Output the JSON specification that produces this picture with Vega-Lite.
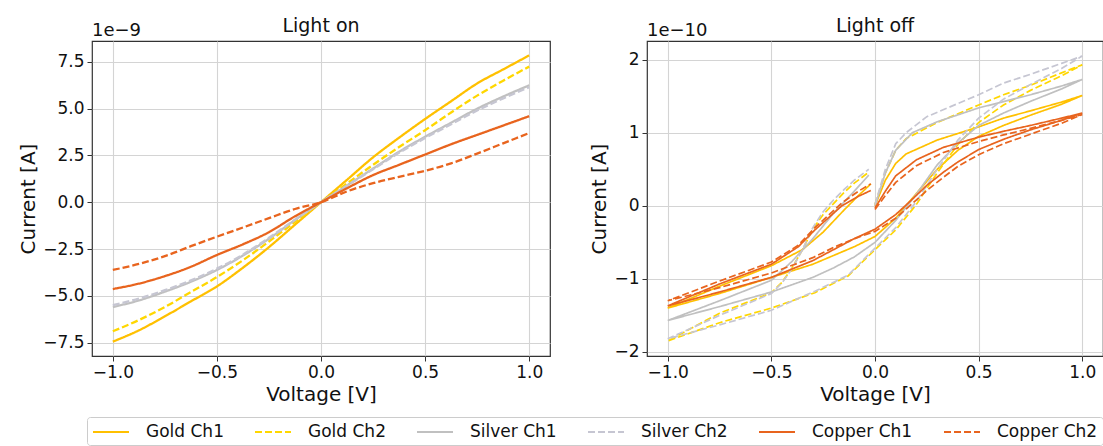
{
"$schema": "https://vega.github.io/schema/vega-lite/v6.json",
"background": "white",
"padding": {"left": 18, "top": 16, "right": 0, "bottom": 0},
"config": {
  "font": "DejaVu Sans",
  "view": {"stroke": "#333333", "strokeWidth": 1.2},
  "axis": {"domain": false, "grid": true, "gridColor": "#d4d4d4", "gridWidth": 1.1, "tickColor": "#333333", "tickSize": 5, "labelFont": "DejaVu Sans", "labelFontSize": 17, "labelColor": "#111111", "titleFont": "DejaVu Sans", "titleFontSize": 20, "titleFontWeight": "normal", "titleColor": "#111111", "labelPadding": 3},
  "title": {"font": "DejaVu Sans", "fontSize": 19, "fontWeight": "normal", "color": "#111111", "offset": -14},
  "legend": {"orient": "none", "legendX": -5, "legendY": 376, "direction": "horizontal", "columns": 6, "title": null, "symbolType": "M-1,0H3", "symbolSize": 324, "symbolStrokeWidth": 2, "labelFontSize": 17, "labelFont": "DejaVu Sans", "labelColor": "#111111", "labelOffset": 34, "columnPadding": 27, "strokeColor": "#cccccc", "fillColor": "white", "padding": 5, "cornerRadius": 3}
},
"datasets": {
"on": [
{"s":"Gold Ch1","v":-1,"c":-7.45e-9},{"s":"Gold Ch1","v":-0.875,"c":-6.85e-9},{"s":"Gold Ch1","v":-0.75,"c":-6.1e-9},{"s":"Gold Ch1","v":-0.625,"c":-5.3e-9},{"s":"Gold Ch1","v":-0.5,"c":-4.5e-9},{"s":"Gold Ch1","v":-0.375,"c":-3.5e-9},{"s":"Gold Ch1","v":-0.25,"c":-2.4e-9},{"s":"Gold Ch1","v":-0.125,"c":-1.2e-9},{"s":"Gold Ch1","v":0,"c":0},{"s":"Gold Ch1","v":0.125,"c":1.2e-9},{"s":"Gold Ch1","v":0.25,"c":2.4e-9},{"s":"Gold Ch1","v":0.375,"c":3.45e-9},{"s":"Gold Ch1","v":0.5,"c":4.45e-9},{"s":"Gold Ch1","v":0.625,"c":5.4e-9},{"s":"Gold Ch1","v":0.75,"c":6.35e-9},{"s":"Gold Ch1","v":0.875,"c":7.1e-9},{"s":"Gold Ch1","v":1,"c":7.85e-9},
{"s":"Gold Ch2","v":-1,"c":-6.9e-9},{"s":"Gold Ch2","v":-0.875,"c":-6.3e-9},{"s":"Gold Ch2","v":-0.75,"c":-5.6e-9},{"s":"Gold Ch2","v":-0.625,"c":-4.8e-9},{"s":"Gold Ch2","v":-0.5,"c":-4.0e-9},{"s":"Gold Ch2","v":-0.375,"c":-3.1e-9},{"s":"Gold Ch2","v":-0.25,"c":-2.1e-9},{"s":"Gold Ch2","v":-0.125,"c":-1.05e-9},{"s":"Gold Ch2","v":0,"c":0},{"s":"Gold Ch2","v":0.125,"c":1.0e-9},{"s":"Gold Ch2","v":0.25,"c":2.0e-9},{"s":"Gold Ch2","v":0.375,"c":2.95e-9},{"s":"Gold Ch2","v":0.5,"c":3.85e-9},{"s":"Gold Ch2","v":0.625,"c":4.8e-9},{"s":"Gold Ch2","v":0.75,"c":5.7e-9},{"s":"Gold Ch2","v":0.875,"c":6.5e-9},{"s":"Gold Ch2","v":1,"c":7.25e-9},
{"s":"Silver Ch1","v":-1,"c":-5.6e-9},{"s":"Silver Ch1","v":-0.875,"c":-5.25e-9},{"s":"Silver Ch1","v":-0.75,"c":-4.78e-9},{"s":"Silver Ch1","v":-0.625,"c":-4.25e-9},{"s":"Silver Ch1","v":-0.5,"c":-3.62e-9},{"s":"Silver Ch1","v":-0.375,"c":-2.85e-9},{"s":"Silver Ch1","v":-0.25,"c":-1.95e-9},{"s":"Silver Ch1","v":-0.125,"c":-0.95e-9},{"s":"Silver Ch1","v":0,"c":0},{"s":"Silver Ch1","v":0.125,"c":0.9e-9},{"s":"Silver Ch1","v":0.25,"c":1.8e-9},{"s":"Silver Ch1","v":0.375,"c":2.7e-9},{"s":"Silver Ch1","v":0.5,"c":3.5e-9},{"s":"Silver Ch1","v":0.625,"c":4.25e-9},{"s":"Silver Ch1","v":0.75,"c":5.0e-9},{"s":"Silver Ch1","v":0.875,"c":5.65e-9},{"s":"Silver Ch1","v":1,"c":6.25e-9},
{"s":"Silver Ch2","v":-1,"c":-5.5e-9},{"s":"Silver Ch2","v":-0.875,"c":-5.15e-9},{"s":"Silver Ch2","v":-0.75,"c":-4.7e-9},{"s":"Silver Ch2","v":-0.625,"c":-4.18e-9},{"s":"Silver Ch2","v":-0.5,"c":-3.55e-9},{"s":"Silver Ch2","v":-0.375,"c":-2.8e-9},{"s":"Silver Ch2","v":-0.25,"c":-1.9e-9},{"s":"Silver Ch2","v":-0.125,"c":-0.93e-9},{"s":"Silver Ch2","v":0,"c":0},{"s":"Silver Ch2","v":0.125,"c":0.88e-9},{"s":"Silver Ch2","v":0.25,"c":1.76e-9},{"s":"Silver Ch2","v":0.375,"c":2.64e-9},{"s":"Silver Ch2","v":0.5,"c":3.43e-9},{"s":"Silver Ch2","v":0.625,"c":4.17e-9},{"s":"Silver Ch2","v":0.75,"c":4.9e-9},{"s":"Silver Ch2","v":0.875,"c":5.55e-9},{"s":"Silver Ch2","v":1,"c":6.15e-9},
{"s":"Copper Ch1","v":-1,"c":-4.64e-9},{"s":"Copper Ch1","v":-0.875,"c":-4.35e-9},{"s":"Copper Ch1","v":-0.75,"c":-3.95e-9},{"s":"Copper Ch1","v":-0.625,"c":-3.45e-9},{"s":"Copper Ch1","v":-0.5,"c":-2.82e-9},{"s":"Copper Ch1","v":-0.375,"c":-2.25e-9},{"s":"Copper Ch1","v":-0.25,"c":-1.6e-9},{"s":"Copper Ch1","v":-0.125,"c":-0.75e-9},{"s":"Copper Ch1","v":0,"c":0},{"s":"Copper Ch1","v":0.125,"c":0.75e-9},{"s":"Copper Ch1","v":0.25,"c":1.45e-9},{"s":"Copper Ch1","v":0.375,"c":2.0e-9},{"s":"Copper Ch1","v":0.5,"c":2.55e-9},{"s":"Copper Ch1","v":0.625,"c":3.1e-9},{"s":"Copper Ch1","v":0.75,"c":3.6e-9},{"s":"Copper Ch1","v":0.875,"c":4.1e-9},{"s":"Copper Ch1","v":1,"c":4.6e-9},
{"s":"Copper Ch2","v":-1,"c":-3.62e-9},{"s":"Copper Ch2","v":-0.875,"c":-3.3e-9},{"s":"Copper Ch2","v":-0.75,"c":-2.88e-9},{"s":"Copper Ch2","v":-0.625,"c":-2.35e-9},{"s":"Copper Ch2","v":-0.5,"c":-1.84e-9},{"s":"Copper Ch2","v":-0.375,"c":-1.35e-9},{"s":"Copper Ch2","v":-0.25,"c":-0.85e-9},{"s":"Copper Ch2","v":-0.125,"c":-0.36e-9},{"s":"Copper Ch2","v":0,"c":0},{"s":"Copper Ch2","v":0.125,"c":0.58e-9},{"s":"Copper Ch2","v":0.25,"c":1.02e-9},{"s":"Copper Ch2","v":0.375,"c":1.36e-9},{"s":"Copper Ch2","v":0.5,"c":1.68e-9},{"s":"Copper Ch2","v":0.625,"c":2.08e-9},{"s":"Copper Ch2","v":0.75,"c":2.6e-9},{"s":"Copper Ch2","v":0.875,"c":3.15e-9},{"s":"Copper Ch2","v":1,"c":3.7e-9}
],
"off": [
{"s":"Gold Ch1","i":0,"v":0,"c":0},{"s":"Gold Ch1","i":1,"v":0.05,"c":0.35e-10},{"s":"Gold Ch1","i":2,"v":0.1,"c":0.58e-10},{"s":"Gold Ch1","i":3,"v":0.15,"c":0.71e-10},{"s":"Gold Ch1","i":4,"v":0.3,"c":0.9e-10},{"s":"Gold Ch1","i":5,"v":0.5,"c":1.08e-10},{"s":"Gold Ch1","i":6,"v":0.62,"c":1.2e-10},{"s":"Gold Ch1","i":7,"v":0.75,"c":1.3e-10},{"s":"Gold Ch1","i":8,"v":0.9,"c":1.42e-10},{"s":"Gold Ch1","i":9,"v":1,"c":1.51e-10},{"s":"Gold Ch1","i":10,"v":0.9,"c":1.39e-10},{"s":"Gold Ch1","i":11,"v":0.75,"c":1.24e-10},{"s":"Gold Ch1","i":12,"v":0.62,"c":1.1e-10},{"s":"Gold Ch1","i":13,"v":0.5,"c":0.95e-10},{"s":"Gold Ch1","i":14,"v":0.4,"c":0.76e-10},{"s":"Gold Ch1","i":15,"v":0.3,"c":0.5e-10},{"s":"Gold Ch1","i":16,"v":0.2,"c":0.17e-10},{"s":"Gold Ch1","i":17,"v":0.1,"c":-0.17e-10},{"s":"Gold Ch1","i":18,"v":0,"c":-0.42e-10},{"s":"Gold Ch1","i":19,"v":-0.1,"c":-0.56e-10},{"s":"Gold Ch1","i":20,"v":-0.2,"c":-0.68e-10},{"s":"Gold Ch1","i":21,"v":-0.3,"c":-0.8e-10},{"s":"Gold Ch1","i":22,"v":-0.5,"c":-0.98e-10},{"s":"Gold Ch1","i":23,"v":-0.75,"c":-1.2e-10},{"s":"Gold Ch1","i":24,"v":-1,"c":-1.4e-10},{"s":"Gold Ch1","i":25,"v":-0.75,"c":-1.1e-10},{"s":"Gold Ch1","i":26,"v":-0.5,"c":-0.82e-10},{"s":"Gold Ch1","i":27,"v":-0.35,"c":-0.6e-10},{"s":"Gold Ch1","i":28,"v":-0.25,"c":-0.36e-10},{"s":"Gold Ch1","i":29,"v":-0.15,"c":-0.06e-10},{"s":"Gold Ch1","i":30,"v":-0.08,"c":0.14e-10},{"s":"Gold Ch1","i":31,"v":-0.02,"c":0.3e-10},
{"s":"Gold Ch2","i":0,"v":0,"c":0.02e-10},{"s":"Gold Ch2","i":1,"v":0.05,"c":0.45e-10},{"s":"Gold Ch2","i":2,"v":0.1,"c":0.76e-10},{"s":"Gold Ch2","i":3,"v":0.15,"c":0.92e-10},{"s":"Gold Ch2","i":4,"v":0.3,"c":1.14e-10},{"s":"Gold Ch2","i":5,"v":0.5,"c":1.38e-10},{"s":"Gold Ch2","i":6,"v":0.62,"c":1.52e-10},{"s":"Gold Ch2","i":7,"v":0.75,"c":1.65e-10},{"s":"Gold Ch2","i":8,"v":0.9,"c":1.82e-10},{"s":"Gold Ch2","i":9,"v":1,"c":1.93e-10},{"s":"Gold Ch2","i":10,"v":0.9,"c":1.78e-10},{"s":"Gold Ch2","i":11,"v":0.75,"c":1.58e-10},{"s":"Gold Ch2","i":12,"v":0.62,"c":1.38e-10},{"s":"Gold Ch2","i":13,"v":0.5,"c":1.14e-10},{"s":"Gold Ch2","i":14,"v":0.4,"c":0.84e-10},{"s":"Gold Ch2","i":15,"v":0.3,"c":0.45e-10},{"s":"Gold Ch2","i":16,"v":0.2,"c":0.02e-10},{"s":"Gold Ch2","i":17,"v":0.1,"c":-0.33e-10},{"s":"Gold Ch2","i":18,"v":0,"c":-0.6e-10},{"s":"Gold Ch2","i":19,"v":-0.13,"c":-0.96e-10},{"s":"Gold Ch2","i":20,"v":-0.29,"c":-1.19e-10},{"s":"Gold Ch2","i":21,"v":-0.5,"c":-1.4e-10},{"s":"Gold Ch2","i":22,"v":-0.75,"c":-1.6e-10},{"s":"Gold Ch2","i":23,"v":-1,"c":-1.85e-10},{"s":"Gold Ch2","i":24,"v":-0.75,"c":-1.47e-10},{"s":"Gold Ch2","i":25,"v":-0.5,"c":-1.19e-10},{"s":"Gold Ch2","i":26,"v":-0.45,"c":-1.05e-10},{"s":"Gold Ch2","i":27,"v":-0.4,"c":-0.85e-10},{"s":"Gold Ch2","i":28,"v":-0.35,"c":-0.6e-10},{"s":"Gold Ch2","i":29,"v":-0.3,"c":-0.32e-10},{"s":"Gold Ch2","i":30,"v":-0.25,"c":-0.12e-10},{"s":"Gold Ch2","i":31,"v":-0.2,"c":0.03e-10},{"s":"Gold Ch2","i":32,"v":-0.15,"c":0.18e-10},{"s":"Gold Ch2","i":33,"v":-0.1,"c":0.31e-10},{"s":"Gold Ch2","i":34,"v":-0.03,"c":0.46e-10},
{"s":"Silver Ch1","i":0,"v":0,"c":0},{"s":"Silver Ch1","i":1,"v":0.05,"c":0.45e-10},{"s":"Silver Ch1","i":2,"v":0.1,"c":0.76e-10},{"s":"Silver Ch1","i":3,"v":0.18,"c":1.0e-10},{"s":"Silver Ch1","i":4,"v":0.3,"c":1.15e-10},{"s":"Silver Ch1","i":5,"v":0.5,"c":1.34e-10},{"s":"Silver Ch1","i":6,"v":0.75,"c":1.52e-10},{"s":"Silver Ch1","i":7,"v":0.9,"c":1.64e-10},{"s":"Silver Ch1","i":8,"v":1,"c":1.73e-10},{"s":"Silver Ch1","i":9,"v":0.9,"c":1.6e-10},{"s":"Silver Ch1","i":10,"v":0.75,"c":1.43e-10},{"s":"Silver Ch1","i":11,"v":0.62,"c":1.27e-10},{"s":"Silver Ch1","i":12,"v":0.5,"c":1.1e-10},{"s":"Silver Ch1","i":13,"v":0.4,"c":0.86e-10},{"s":"Silver Ch1","i":14,"v":0.3,"c":0.56e-10},{"s":"Silver Ch1","i":15,"v":0.2,"c":0.16e-10},{"s":"Silver Ch1","i":16,"v":0.1,"c":-0.2e-10},{"s":"Silver Ch1","i":17,"v":0,"c":-0.5e-10},{"s":"Silver Ch1","i":18,"v":-0.1,"c":-0.7e-10},{"s":"Silver Ch1","i":19,"v":-0.2,"c":-0.85e-10},{"s":"Silver Ch1","i":20,"v":-0.3,"c":-0.98e-10},{"s":"Silver Ch1","i":21,"v":-0.5,"c":-1.18e-10},{"s":"Silver Ch1","i":22,"v":-0.75,"c":-1.38e-10},{"s":"Silver Ch1","i":23,"v":-1,"c":-1.57e-10},{"s":"Silver Ch1","i":24,"v":-0.75,"c":-1.3e-10},{"s":"Silver Ch1","i":25,"v":-0.5,"c":-1.02e-10},{"s":"Silver Ch1","i":26,"v":-0.4,"c":-0.76e-10},{"s":"Silver Ch1","i":27,"v":-0.3,"c":-0.45e-10},{"s":"Silver Ch1","i":28,"v":-0.2,"c":-0.1e-10},{"s":"Silver Ch1","i":29,"v":-0.1,"c":0.2e-10},{"s":"Silver Ch1","i":30,"v":-0.03,"c":0.42e-10},
{"s":"Silver Ch2","i":0,"v":0,"c":0.02e-10},{"s":"Silver Ch2","i":1,"v":0.05,"c":0.5e-10},{"s":"Silver Ch2","i":2,"v":0.1,"c":0.85e-10},{"s":"Silver Ch2","i":3,"v":0.15,"c":1.0e-10},{"s":"Silver Ch2","i":4,"v":0.25,"c":1.22e-10},{"s":"Silver Ch2","i":5,"v":0.5,"c":1.52e-10},{"s":"Silver Ch2","i":6,"v":0.62,"c":1.68e-10},{"s":"Silver Ch2","i":7,"v":0.75,"c":1.8e-10},{"s":"Silver Ch2","i":8,"v":0.9,"c":1.95e-10},{"s":"Silver Ch2","i":9,"v":1,"c":2.05e-10},{"s":"Silver Ch2","i":10,"v":0.9,"c":1.88e-10},{"s":"Silver Ch2","i":11,"v":0.75,"c":1.66e-10},{"s":"Silver Ch2","i":12,"v":0.62,"c":1.46e-10},{"s":"Silver Ch2","i":13,"v":0.5,"c":1.2e-10},{"s":"Silver Ch2","i":14,"v":0.4,"c":0.9e-10},{"s":"Silver Ch2","i":15,"v":0.3,"c":0.5e-10},{"s":"Silver Ch2","i":16,"v":0.2,"c":0.06e-10},{"s":"Silver Ch2","i":17,"v":0.1,"c":-0.3e-10},{"s":"Silver Ch2","i":18,"v":0,"c":-0.58e-10},{"s":"Silver Ch2","i":19,"v":-0.13,"c":-0.95e-10},{"s":"Silver Ch2","i":20,"v":-0.29,"c":-1.17e-10},{"s":"Silver Ch2","i":21,"v":-0.5,"c":-1.43e-10},{"s":"Silver Ch2","i":22,"v":-0.75,"c":-1.63e-10},{"s":"Silver Ch2","i":23,"v":-1,"c":-1.82e-10},{"s":"Silver Ch2","i":24,"v":-0.75,"c":-1.5e-10},{"s":"Silver Ch2","i":25,"v":-0.5,"c":-1.2e-10},{"s":"Silver Ch2","i":26,"v":-0.45,"c":-1.06e-10},{"s":"Silver Ch2","i":27,"v":-0.4,"c":-0.86e-10},{"s":"Silver Ch2","i":28,"v":-0.35,"c":-0.6e-10},{"s":"Silver Ch2","i":29,"v":-0.3,"c":-0.3e-10},{"s":"Silver Ch2","i":30,"v":-0.25,"c":-0.08e-10},{"s":"Silver Ch2","i":31,"v":-0.2,"c":0.08e-10},{"s":"Silver Ch2","i":32,"v":-0.15,"c":0.22e-10},{"s":"Silver Ch2","i":33,"v":-0.1,"c":0.35e-10},{"s":"Silver Ch2","i":34,"v":-0.03,"c":0.5e-10},
{"s":"Copper Ch1","i":0,"v":0,"c":-0.03e-10},{"s":"Copper Ch1","i":1,"v":0.05,"c":0.2e-10},{"s":"Copper Ch1","i":2,"v":0.1,"c":0.41e-10},{"s":"Copper Ch1","i":3,"v":0.2,"c":0.63e-10},{"s":"Copper Ch1","i":4,"v":0.33,"c":0.8e-10},{"s":"Copper Ch1","i":5,"v":0.5,"c":0.94e-10},{"s":"Copper Ch1","i":6,"v":0.62,"c":1.02e-10},{"s":"Copper Ch1","i":7,"v":0.75,"c":1.1e-10},{"s":"Copper Ch1","i":8,"v":0.9,"c":1.2e-10},{"s":"Copper Ch1","i":9,"v":1,"c":1.27e-10},{"s":"Copper Ch1","i":10,"v":0.9,"c":1.17e-10},{"s":"Copper Ch1","i":11,"v":0.75,"c":1.04e-10},{"s":"Copper Ch1","i":12,"v":0.62,"c":0.91e-10},{"s":"Copper Ch1","i":13,"v":0.5,"c":0.77e-10},{"s":"Copper Ch1","i":14,"v":0.4,"c":0.6e-10},{"s":"Copper Ch1","i":15,"v":0.33,"c":0.46e-10},{"s":"Copper Ch1","i":16,"v":0.25,"c":0.28e-10},{"s":"Copper Ch1","i":17,"v":0.18,"c":0.09e-10},{"s":"Copper Ch1","i":18,"v":0.1,"c":-0.12e-10},{"s":"Copper Ch1","i":19,"v":0,"c":-0.32e-10},{"s":"Copper Ch1","i":20,"v":-0.1,"c":-0.45e-10},{"s":"Copper Ch1","i":21,"v":-0.2,"c":-0.6e-10},{"s":"Copper Ch1","i":22,"v":-0.3,"c":-0.75e-10},{"s":"Copper Ch1","i":23,"v":-0.5,"c":-0.98e-10},{"s":"Copper Ch1","i":24,"v":-0.75,"c":-1.18e-10},{"s":"Copper Ch1","i":25,"v":-1,"c":-1.37e-10},{"s":"Copper Ch1","i":26,"v":-0.75,"c":-1.07e-10},{"s":"Copper Ch1","i":27,"v":-0.5,"c":-0.8e-10},{"s":"Copper Ch1","i":28,"v":-0.37,"c":-0.56e-10},{"s":"Copper Ch1","i":29,"v":-0.29,"c":-0.33e-10},{"s":"Copper Ch1","i":30,"v":-0.16,"c":0},{"s":"Copper Ch1","i":31,"v":-0.08,"c":0.13e-10},{"s":"Copper Ch1","i":32,"v":-0.02,"c":0.21e-10},
{"s":"Copper Ch2","i":0,"v":0,"c":-0.05e-10},{"s":"Copper Ch2","i":1,"v":0.05,"c":0.14e-10},{"s":"Copper Ch2","i":2,"v":0.1,"c":0.32e-10},{"s":"Copper Ch2","i":3,"v":0.2,"c":0.55e-10},{"s":"Copper Ch2","i":4,"v":0.33,"c":0.73e-10},{"s":"Copper Ch2","i":5,"v":0.5,"c":0.88e-10},{"s":"Copper Ch2","i":6,"v":0.62,"c":0.97e-10},{"s":"Copper Ch2","i":7,"v":0.75,"c":1.06e-10},{"s":"Copper Ch2","i":8,"v":0.9,"c":1.17e-10},{"s":"Copper Ch2","i":9,"v":1,"c":1.25e-10},{"s":"Copper Ch2","i":10,"v":0.9,"c":1.13e-10},{"s":"Copper Ch2","i":11,"v":0.75,"c":0.98e-10},{"s":"Copper Ch2","i":12,"v":0.62,"c":0.85e-10},{"s":"Copper Ch2","i":13,"v":0.5,"c":0.7e-10},{"s":"Copper Ch2","i":14,"v":0.4,"c":0.54e-10},{"s":"Copper Ch2","i":15,"v":0.33,"c":0.39e-10},{"s":"Copper Ch2","i":16,"v":0.25,"c":0.21e-10},{"s":"Copper Ch2","i":17,"v":0.18,"c":0.03e-10},{"s":"Copper Ch2","i":18,"v":0.1,"c":-0.17e-10},{"s":"Copper Ch2","i":19,"v":0,"c":-0.35e-10},{"s":"Copper Ch2","i":20,"v":-0.1,"c":-0.45e-10},{"s":"Copper Ch2","i":21,"v":-0.2,"c":-0.57e-10},{"s":"Copper Ch2","i":22,"v":-0.3,"c":-0.71e-10},{"s":"Copper Ch2","i":23,"v":-0.5,"c":-0.92e-10},{"s":"Copper Ch2","i":24,"v":-0.75,"c":-1.12e-10},{"s":"Copper Ch2","i":25,"v":-1,"c":-1.3e-10},{"s":"Copper Ch2","i":26,"v":-0.75,"c":-1.03e-10},{"s":"Copper Ch2","i":27,"v":-0.5,"c":-0.77e-10},{"s":"Copper Ch2","i":28,"v":-0.37,"c":-0.54e-10},{"s":"Copper Ch2","i":29,"v":-0.29,"c":-0.3e-10},{"s":"Copper Ch2","i":30,"v":-0.16,"c":0.04e-10},{"s":"Copper Ch2","i":31,"v":-0.08,"c":0.2e-10},{"s":"Copper Ch2","i":32,"v":-0.02,"c":0.3e-10}
]
},
"spacing": 38,
"resolve": {"scale": {"color": "shared", "strokeDash": "shared"}},
"hconcat": [
{
  "width": 458, "height": 315,
  "title": "Light on",
  "layer": [
    {
      "data": {"name": "on"},
      "mark": {"type": "line", "strokeWidth": 2.3, "interpolate": "monotone"},
      "encoding": {
        "x": {"field": "v", "type": "quantitative", "scale": {"domain": [-1.1, 1.1], "nice": false, "zero": false}, "axis": {"values": [-1, -0.5, 0, 0.5, 1], "labelExpr": "format(datum.value, '.1f')", "title": "Voltage [V]"}},
        "y": {"field": "c", "type": "quantitative", "scale": {"domain": [-8.22e-9, 8.62e-9], "nice": false, "zero": false}, "axis": {"values": [-7.5e-9, -5e-9, -2.5e-9, 0, 2.5e-9, 5e-9, 7.5e-9], "labelExpr": "format(datum.value*1e9, '.1f')", "title": "Current [A]"}},
        "color": {"field": "s", "type": "nominal", "scale": {"domain": ["Gold Ch1", "Gold Ch2", "Silver Ch1", "Silver Ch2", "Copper Ch1", "Copper Ch2"], "range": ["#FFC000", "#FFD700", "#C0C0C0", "#C6C6D2", "#E8641E", "#E8641E"]}},
        "strokeDash": {"field": "s", "type": "nominal", "scale": {"domain": ["Gold Ch1", "Gold Ch2", "Silver Ch1", "Silver Ch2", "Copper Ch1", "Copper Ch2"], "range": [[1, 0], [7, 3], [1, 0], [7, 3], [1, 0], [7, 3]]}}
      }
    },
    {
      "data": {"values": [{"t": "1e−9"}]},
      "mark": {"type": "text", "align": "left", "baseline": "alphabetic", "dy": -5, "fontSize": 18, "font": "DejaVu Sans", "color": "#111111"},
      "encoding": {"x": {"datum": -1.1}, "y": {"datum": 8.62e-9}, "text": {"field": "t"}}
    }
  ]
},
{
  "width": 456, "height": 315,
  "title": "Light off",
  "layer": [
    {
      "data": {"name": "off"},
      "mark": {"type": "line", "strokeWidth": 1.7},
      "encoding": {
        "x": {"field": "v", "type": "quantitative", "scale": {"domain": [-1.1, 1.1], "nice": false, "zero": false}, "axis": {"values": [-1, -0.5, 0, 0.5, 1], "labelExpr": "format(datum.value, '.1f')", "title": "Voltage [V]"}},
        "y": {"field": "c", "type": "quantitative", "scale": {"domain": [-2.056e-10, 2.256e-10], "nice": false, "zero": false}, "axis": {"values": [-2e-10, -1e-10, 0, 1e-10, 2e-10], "labelExpr": "format(datum.value*1e10, '.0f')", "title": "Current [A]"}},
        "order": {"field": "i", "type": "quantitative"},
        "color": {"field": "s", "type": "nominal", "scale": {"domain": ["Gold Ch1", "Gold Ch2", "Silver Ch1", "Silver Ch2", "Copper Ch1", "Copper Ch2"], "range": ["#FFC000", "#FFD700", "#C0C0C0", "#C6C6D2", "#E8641E", "#E8641E"]}},
        "strokeDash": {"field": "s", "type": "nominal", "scale": {"domain": ["Gold Ch1", "Gold Ch2", "Silver Ch1", "Silver Ch2", "Copper Ch1", "Copper Ch2"], "range": [[1, 0], [7, 3], [1, 0], [7, 3], [1, 0], [7, 3]]}}
      }
    },
    {
      "data": {"values": [{"t": "1e−10"}]},
      "mark": {"type": "text", "align": "left", "baseline": "alphabetic", "dy": -5, "fontSize": 18, "font": "DejaVu Sans", "color": "#111111"},
      "encoding": {"x": {"datum": -1.1}, "y": {"datum": 2.256e-10}, "text": {"field": "t"}}
    }
  ]
}
]
}
